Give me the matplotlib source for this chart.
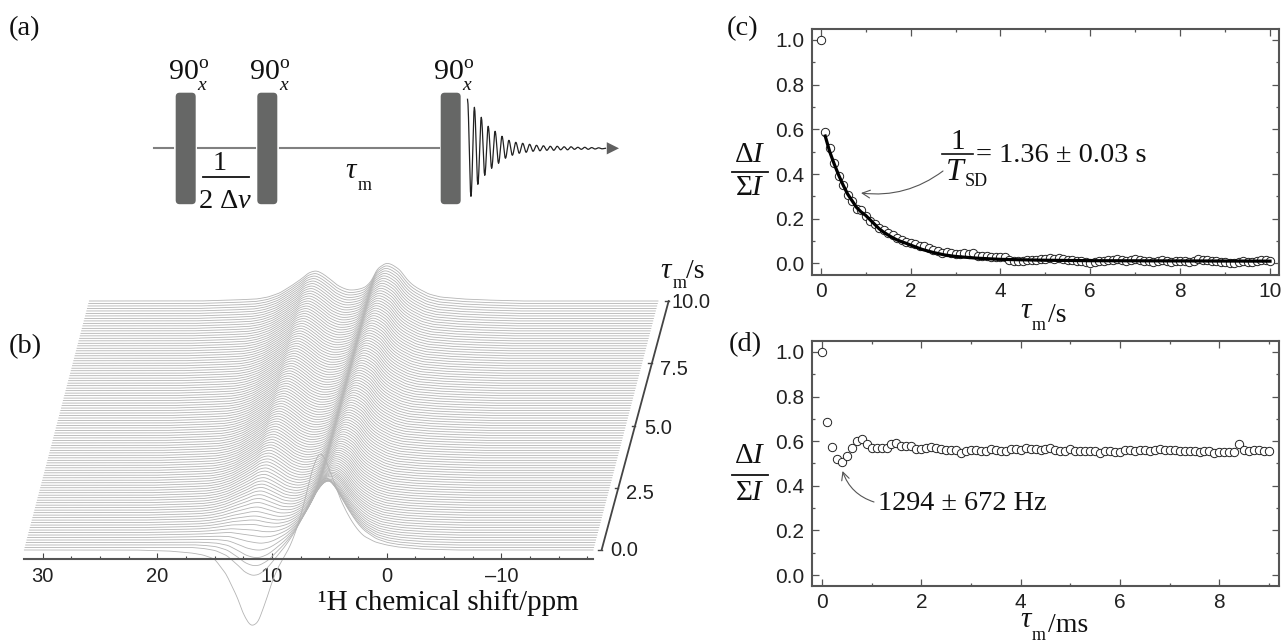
import numpy as np
import matplotlib
matplotlib.use('Agg')
import matplotlib.pyplot as plt
from matplotlib.patches import FancyBboxPatch
from matplotlib.ticker import MultipleLocator

plt.rcParams['font.family'] = 'Liberation Sans'
plt.rcParams['mathtext.fontset'] = 'custom'
plt.rcParams['mathtext.rm'] = 'Liberation Serif'
plt.rcParams['mathtext.it'] = 'Liberation Serif:italic'

# panel c, saturation recovery points (every 0.1 s)
c_y = [1.00, 0.59, 0.515, 0.45, 0.39, 0.35, 0.305, 0.28, 0.245, 0.24,
       0.21, 0.19, 0.175, 0.16, 0.15, 0.135, 0.125, 0.115, 0.105, 0.095,
       0.09, 0.085, 0.08, 0.08, 0.07, 0.06, 0.055, 0.045, 0.05, 0.045,
       0.04, 0.04, 0.045, 0.04, 0.045, 0.035, 0.035, 0.035, 0.03, 0.03,
       0.03, 0.03, 0.015, 0.01, 0.01, 0.01, 0.015, 0.015, 0.015, 0.02,
       0.02, 0.025, 0.02, 0.025, 0.02, 0.015, 0.015, 0.01, 0.01, 0.005,
       0.0, 0.005, 0.01, 0.01, 0.015, 0.015, 0.02, 0.015, 0.01, 0.015,
       0.02, 0.015, 0.01, 0.01, 0.005, 0.01, 0.015, 0.01, 0.005, 0.01,
       0.01, 0.01, 0.005, 0.01, 0.02, 0.015, 0.015, 0.01, 0.01, 0.005,
       0.005, 0.0, 0.0, 0.005, 0.01, 0.005, 0.005, 0.01, 0.015, 0.015,
       0.01]
c_fit_tau = [0.1, 0.2, 0.3, 0.4, 0.5, 0.6, 0.7, 0.8, 0.9, 1.0, 1.1, 1.2, 1.3, 1.4, 1.5,
             1.6, 1.7, 1.8, 1.9, 2.0, 2.25, 2.5, 2.75, 3.0, 3.5, 4.0, 5.0, 6.0, 8.0, 10.0]
c_fit_y = [0.57, 0.50, 0.445, 0.395, 0.35, 0.31, 0.28, 0.25, 0.23, 0.215, 0.195, 0.175, 0.155, 0.14, 0.127,
           0.115, 0.105, 0.097, 0.09, 0.082, 0.063, 0.049, 0.038, 0.031, 0.023, 0.018, 0.014, 0.012, 0.011, 0.010]

# panel d, short mixing times (every 0.1 ms)
d_y = [1.00, 0.685, 0.575, 0.52, 0.505, 0.535, 0.57, 0.60, 0.61, 0.585,
       0.57, 0.57, 0.57, 0.57, 0.585, 0.59, 0.58, 0.58, 0.58, 0.565,
       0.565, 0.57, 0.575, 0.57, 0.565, 0.56, 0.56, 0.56, 0.545, 0.555,
       0.56, 0.56, 0.555, 0.555, 0.565, 0.56, 0.555, 0.555, 0.565, 0.565,
       0.56, 0.57, 0.565, 0.565, 0.56, 0.565, 0.57, 0.56, 0.555, 0.555,
       0.565, 0.555, 0.555, 0.555, 0.555, 0.555, 0.545, 0.555, 0.555, 0.55,
       0.55, 0.56, 0.56, 0.555, 0.56, 0.56, 0.555, 0.56, 0.565, 0.56,
       0.56, 0.56, 0.555, 0.555, 0.555, 0.555, 0.55, 0.555, 0.555, 0.545,
       0.55, 0.55, 0.55, 0.55, 0.585, 0.56, 0.555, 0.56, 0.56, 0.555,
       0.555]

# panel b, spectra (height in px above each trace's baseline)
ppm_grid = [31.6, 22, 19, 17, 16, 15, 14, 13, 12.5, 12, 11.7, 11.2, 10.5, 10, 9.5, 9, 8.5, 8, 7.5, 7,
            6.5, 6, 5.7, 5.3, 5, 4.5, 4, 3.5, 3, 2.5, 2, 1, 0, -1, -3, -6, -18]
spec_tau0 = [0, 0, -1, -3, -5, -9, -24, -48, -64, -74, -76, -72, -50, -32, -18, -8, 2, 16, 34, 56,
             80, 95, 97, 90, 80, 65, 50, 38, 28, 20, 14, 8, 5, 3, 1, 0, 0]
spec_tau01 = [0, 0, 0, 0, -1, -3, -8, -18, -24, -27, -28, -27, -21, -14, -7, 0, 8, 17, 28, 40,
              52, 63, 67, 70, 68, 60, 50, 40, 31, 23, 17, 9, 5, 3, 1, 0, 0]
spec_tau10 = [0, 0, 1, 2, 4, 8, 15, 23, 28, 30, 30, 27, 21, 16, 13, 11, 11, 12, 14, 20,
              32, 36, 38, 37, 35, 31, 23, 17, 13, 10, 7, 4, 3, 2, 1, 0, 0]

ppm_ticks = [30, 20, 10, 0, -10]
ppm_labels = ['30', '20', '10', '0', '\u201310']
tau_ticks = [0.0, 2.5, 5.0, 7.5, 10.0]
tau_labels = ['0.0', '2.5', '5.0', '7.5', '10.0']

# panel a, FID extremes in px from the baseline
fid_amp = [49, -48, 41, -36, 31, -27, 22, -20, 17, -15, 12, -10, 8, -7, 6, -5, 5, -4, 4, -3, 3, -2.5, 2.5, -2,
           2, -2, 2, -1.5, 1.5, -1.5, 1.5, -1, 1, -1, 1, -1, 0.7, -0.7, 0.5, -0.5, 0]

W, H = 1281, 641
fig = plt.figure(figsize=(W / 100, H / 100), dpi=100)


def px_axes(left, top, right, bottom):
    return fig.add_axes([left / W, 1 - bottom / H, (right - left) / W, (bottom - top) / H])


ov = fig.add_axes([0, 0, 1, 1], zorder=5)
ov.set_xlim(0, W)
ov.set_ylim(H, 0)
ov.axis('off')
ov.patch.set_alpha(0)


def serif(x, y, s, size=20.5, ha='center', va='center', **kw):
    ov.text(x, y, s, fontsize=size, family='Liberation Serif', ha=ha, va=va, color='#111111', **kw)


for s, x, y in [('(a)', 25, 29), ('(b)', 25, 347), ('(c)', 743, 29), ('(d)', 745, 345)]:
    serif(x, y, s)

# ---- panel a
ov.plot([154, 173], [148.3, 148.3], color='#808080', lw=1.5)
ov.plot([198, 255], [148.3, 148.3], color='#808080', lw=1.5)
ov.plot([280, 439], [148.3, 148.3], color='#808080', lw=1.5)
for x0 in [175.7, 257.3, 440.7]:
    ov.add_patch(FancyBboxPatch((x0 + 4, 96.7), 12, 103.5, boxstyle='round,pad=4', fc='#666766', ec='none'))
    serif(x0 + 8, 79, '90', size=21.5, va='baseline')
    serif(x0 + 27, 63, 'o', size=14)
    serif(x0 + 26, 85, 'x', size=14, style='italic')
fid_x = 467.5 + 3.45 * np.arange(len(fid_amp))
# half-cosine between neighbouring extremes keeps the wiggle rounded
frac = np.linspace(0, 1, 8)
shape = (1 - np.cos(np.pi * frac)) / 2
wig_x = np.concatenate([a + (b - a) * frac for a, b in zip(fid_x[:-1], fid_x[1:])])
wig_y = np.concatenate([a + (b - a) * shape for a, b in zip(fid_amp[:-1], fid_amp[1:])])
ov.plot(wig_x, 148.3 - wig_y, color='#222222', lw=0.9)
ov.annotate('', xy=(619, 148.3), xytext=(605, 148.3),
            arrowprops=dict(arrowstyle='-|>', color='#606060', lw=0, mutation_scale=22, shrinkA=0, shrinkB=0))
serif(220, 163, '1')
ov.plot([203, 249], [176.7, 176.7], color='#111111', lw=1.3)
serif(225, 202, r'2 $\Delta \mathit{\nu}$')
serif(352, 171, r'$\mathit{\tau}$', size=21)
serif(365, 186, 'm', size=13)

# ---- panel b
ax_b = px_axes(24, 263, 593, 558.7)
ax_b.patch.set_alpha(0)
ax_b.set_xlim(31.63, -18.0)
ax_b.set_ylim(-8.7, 287)
for side in ['top', 'left', 'right']:
    ax_b.spines[side].set_visible(False)
ax_b.spines['bottom'].set_color('#555555')
ax_b.spines['bottom'].set_linewidth(1.5)
ax_b.set_yticks([])
ax_b.set_xticks(ppm_ticks)
ax_b.set_xticklabels(ppm_labels, fontsize=14.5, color='#222222')
ax_b.xaxis.set_minor_locator(MultipleLocator(2.5))
ax_b.tick_params(axis='x', which='major', direction='in', length=4, width=0.8, color='#444444', pad=6)
ax_b.tick_params(axis='x', which='minor', direction='in', length=2, width=0.8, color='#444444')

dense = np.arange(31.6, -18.05, -0.1)
win = np.hanning(9)
win = win / win.sum()


def smooth(vals):
    return np.convolve(np.interp(dense, ppm_grid[::-1], vals[::-1]), win, mode='same')


s0, s1, s10 = smooth(spec_tau0), smooth(spec_tau01), smooth(spec_tau10)
# the stack relaxes the same way as the fitted curve in panel c
taus = np.arange(101) * 0.1
fit_at_tau = np.interp(taus, c_fit_tau, c_fit_y)
weights = (fit_at_tau - c_fit_y[-1]) / (c_fit_y[0] - c_fit_y[-1])
SKEW = 0.567
RISE = 24.9
for i, tau in enumerate(taus):
    spec = s0 if i == 0 else s10 + (s1 - s10) * weights[i]
    ax_b.plot(dense - SKEW * tau, spec + RISE * tau, color='#b4b4b4', lw=0.6, clip_on=False)

# tau axis of the stack
tau_x = -18.75 - 0.585 * np.array(tau_ticks)
tau_y = RISE * np.array(tau_ticks)
ax_b.plot(tau_x, tau_y, color='#444444', lw=1.3, clip_on=False)
offsets = [(9, -1), (8, -6), (9, -3), (8, -6), (3, -2)]
for tx, ty, lab, off in zip(tau_x, tau_y, tau_labels, offsets):
    ax_b.plot([tx + 0.3, tx], [ty, ty], color='#444444', lw=1, clip_on=False)
    ax_b.annotate(lab, (tx, ty), xytext=(off[0] * 0.72, off[1] * 0.72), textcoords='offset points',
                  fontsize=14.5, color='#222222', va='center', ha='left', annotation_clip=False)

serif(448, 603, '\u00b9H chemical shift/ppm', size=21)
serif(667, 271, r'$\mathit{\tau}$', size=21)
serif(680, 284, 'm', size=13)
serif(686, 271, '/s', size=20, ha='left')


# ---- panels c and d
def style_panel(ax):
    for sp in ax.spines.values():
        sp.set_color('#555555')
        sp.set_linewidth(1.5)
    ax.set_yticks([0, 0.2, 0.4, 0.6, 0.8, 1.0])
    ax.set_yticklabels(['0.0', '0.2', '0.4', '0.6', '0.8', '1.0'])
    ax.yaxis.set_minor_locator(MultipleLocator(0.1))
    ax.xaxis.set_major_locator(MultipleLocator(2))
    ax.xaxis.set_minor_locator(MultipleLocator(1))
    ax.tick_params(which='major', direction='in', length=5, width=0.9, color='#555555',
                   top=True, right=True, labelsize=15, labelcolor='#222222', pad=5)
    ax.tick_params(which='minor', direction='in', length=2.5, width=0.9, color='#555555', top=True, right=True)


ax_c = px_axes(811.5, 29, 1279, 275)
ax_c.set_xlim(-0.205, 10.2)
ax_c.set_ylim(-0.052, 1.049)
style_panel(ax_c)
ax_c.plot(np.arange(len(c_y)) * 0.1, c_y, 'o', ms=6, mfc='white', mec='#222222', mew=0.7, clip_on=False)
ax_c.plot(c_fit_tau, c_fit_y, color='black', lw=2.3)

ax_d = px_axes(811.5, 340.7, 1279, 586)
ax_d.set_xlim(-0.21, 9.2)
ax_d.set_ylim(-0.049, 1.05)
style_panel(ax_d)
ax_d.plot(np.arange(len(d_y)) * 0.1, d_y, 'o', ms=6, mfc='white', mec='#222222', mew=0.7, clip_on=False)

for y_top, y_bar, y_bot in [(155, 172, 188), (455.7, 475, 493)]:
    serif(750, y_top, r'$\Delta I$', size=21)
    ov.plot([732, 768], [y_bar, y_bar], color='#111111', lw=1.3)
    serif(750, y_bot, r'$\Sigma I$', size=21)

serif(958, 142, '1', size=21)
ov.plot([942, 973], [154, 154], color='#111111', lw=1.2)
serif(956, 172, r'$T$', size=23)
serif(976, 182, 'SD', size=13)
serif(976, 155, '= 1.36 \u00b1 0.03 s', size=20.4, ha='left')
ov.annotate('', xy=(861, 193), xytext=(943, 171),
            arrowprops=dict(arrowstyle='->', color='#555555', lw=0.8, connectionstyle='arc3,rad=-0.2',
                            shrinkA=0, shrinkB=0, mutation_scale=14))
serif(878, 503, '1294 \u00b1 672 Hz', size=20.3, ha='left')
ov.annotate('', xy=(842.5, 471), xytext=(874, 502),
            arrowprops=dict(arrowstyle='->', color='#555555', lw=0.8, connectionstyle='arc3,rad=-0.25',
                            shrinkA=0, shrinkB=0, mutation_scale=14))

serif(1027, 311, r'$\mathit{\tau}$', size=21)
serif(1039, 326, 'm', size=13)
serif(1048, 315, '/s', size=20, ha='left')
serif(1027, 620, r'$\mathit{\tau}$', size=21)
serif(1039, 635, 'm', size=13)
serif(1048, 626, '/ms', size=20, ha='left')

fig.savefig('out.png', dpi=100)
